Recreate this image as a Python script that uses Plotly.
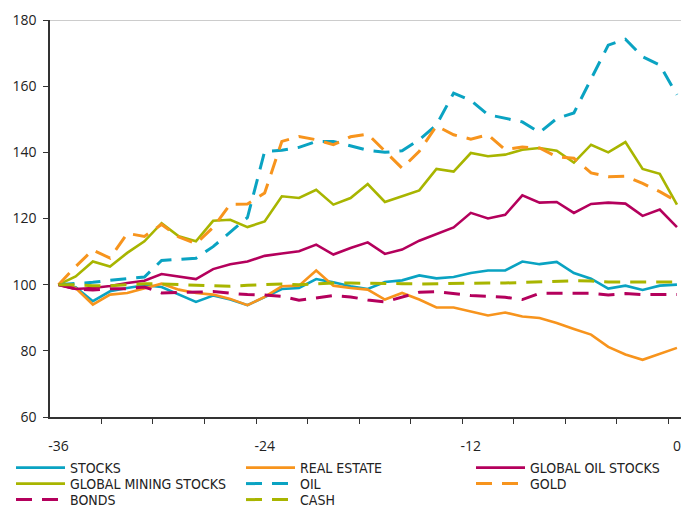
import plotly.graph_objects as go

# months before today
months = list(range(-36, 1))

stocks = [100, 99.2, 95.0, 98.0, 99.0, 99.8, 99.3, 97.0, 94.8, 96.7, 95.5, 93.8, 96.3,
          98.7, 99.0, 101.7, 100.7, 99.5, 98.7, 100.8, 101.3, 102.8, 101.9, 102.3, 103.5,
          104.3, 104.3, 107.0, 106.2, 106.9, 103.5, 101.8, 98.8, 99.7, 98.4, 99.7, 100.0]
real_estate = [100, 99.0, 94.0, 97.0, 97.5, 98.8, 100.3, 98.5, 97.5, 97.0, 95.7, 93.8, 96.3,
               99.5, 99.7, 104.3, 99.7, 99.0, 98.5, 95.5, 97.5, 95.5, 93.1, 93.1, 91.9,
               90.7, 91.6, 90.4, 89.9, 88.4, 86.6, 84.9, 81.2, 78.9, 77.3, 79.1, 80.9]
global_oil_stocks = [100, 98.7, 99.0, 99.6, 100.5, 101.2, 103.2, 102.5, 101.7, 104.7, 106.2, 107.0, 108.7,
                     109.4, 110.1, 112.1, 109.1, 111.1, 112.8, 109.3, 110.6, 113.3, 115.3, 117.3, 121.7,
                     120.0, 121.1, 127.0, 124.8, 125.0, 121.7, 124.4, 124.8, 124.5, 120.8, 122.7, 117.4]
global_mining_stocks = [100, 102.5, 107.0, 105.5, 109.6, 113.1, 118.6, 114.6, 113.1, 119.3, 119.6, 117.4, 119.1,
                        126.7, 126.2, 128.7, 124.2, 126.2, 130.4, 125.0, 126.7, 128.5, 135.0, 134.2, 139.8,
                        138.8, 139.3, 140.8, 141.3, 140.5, 136.9, 142.3, 140.0, 143.1, 135.0, 133.5, 124.2]
oil = [100, 100.3, 100.7, 101.3, 101.8, 102.3, 107.3, 107.6, 108.0, 111.5, 116.0, 120.3, 140.3,
       140.6, 141.5, 143.3, 143.3, 142.0, 140.6, 140.0, 140.5, 143.8, 148.3, 157.9, 155.7,
       151.4, 150.2, 149.2, 146.0, 150.2, 151.9, 162.4, 172.4, 174.2, 168.9, 166.4, 157.4]
gold = [100, 105.5, 110.5, 108.0, 115.5, 114.6, 118.2, 114.4, 112.4, 117.3, 124.3, 124.4, 127.7,
        143.3, 144.8, 143.8, 142.3, 144.7, 145.5, 140.5, 135.2, 140.3, 148.0, 145.3, 144.0,
        145.3, 140.8, 141.6, 141.3, 138.7, 138.2, 133.8, 132.6, 132.8, 130.6, 128.1, 125.2]
bonds = [100, 98.7, 98.4, 98.8, 98.8, 99.3, 97.5, 97.7, 97.9, 97.9, 97.4, 97.0, 96.9,
         96.5, 95.3, 96.0, 96.7, 96.3, 95.4, 94.8, 96.3, 97.7, 97.9, 97.3, 96.7,
         96.5, 96.2, 95.5, 97.4, 97.4, 97.4, 97.4, 96.9, 97.3, 97.0, 97.0, 97.0]
cash = [100, 100.0, 99.7, 99.7, 100.0, 100.3, 100.2, 100.0, 100.0, 99.7, 99.5, 99.8, 100.0,
        100.2, 100.0, 100.3, 100.5, 100.5, 100.5, 100.5, 100.3, 100.2, 100.3, 100.5, 100.5,
        100.5, 100.5, 100.7, 100.8, 101.0, 101.2, 101.1, 100.8, 100.8, 100.8, 100.8, 100.8]

x_labels = [-36, -24, -12, 0]
y_ticks = [60, 80, 100, 120, 140, 160, 180]

TEAL = "#0aa3c2"
ORANGE = "#f7941d"
MAGENTA = "#b4005c"
OLIVE = "#a8b500"
DASH = "16px,10px"

# name, values, colour, dash, legend row, entry width
series = [
    ("STOCKS", stocks, TEAL, "solid", "legend", 166),
    ("REAL ESTATE", real_estate, ORANGE, "solid", "legend", 166),
    ("GLOBAL OIL STOCKS", global_oil_stocks, MAGENTA, "solid", "legend", 130),
    ("GLOBAL MINING STOCKS", global_mining_stocks, OLIVE, "solid", "legend2", 166),
    ("OIL", oil, TEAL, DASH, "legend2", 166),
    ("GOLD", gold, ORANGE, DASH, "legend2", 130),
    ("BONDS", bonds, MAGENTA, DASH, "legend3", 166),
    ("CASH", cash, OLIVE, DASH, "legend3", 166),
]

fig = go.Figure()
for name, vals, color, dash, leg, ew in series:
    fig.add_trace(go.Scatter(
        x=months, y=vals, name=name, mode="lines",
        line=dict(color=color, width=2.6 if dash == "solid" else 3, dash=dash),
        legend=leg, legendwidth=ew,
    ))

W, H = 681, 508
M_L, M_T, M_B = 50, 20, 91
PLOT_W, PLOT_H = W - M_L, H - M_T - M_B
TICK_FONT = dict(family="Open Sans, Noto Sans, sans-serif", size=14, color="#222222")
LEG_FONT = dict(family="Liberation Sans Narrow, DejaVu Sans Condensed, sans-serif", size=14, color="#222222")

def legend_row(center_px):
    # one horizontal legend per row, placed below and left of the plot area
    return dict(
        x=(11 - M_L) / PLOT_W, y=(H - M_B - center_px) / PLOT_H,
        xanchor="left", yanchor="middle", orientation="h",
        font=LEG_FONT, bgcolor="rgba(0,0,0,0)", itemwidth=49,
    )

fig.update_layout(
    width=W, height=H,
    margin=dict(l=M_L, r=0, t=M_T, b=M_B, autoexpand=False),
    plot_bgcolor="white", paper_bgcolor="white",
    showlegend=True,
    legend=legend_row(468),
    legend2=legend_row(484),
    legend3=legend_row(500),
    xaxis=dict(
        range=[-36.495, 0.235], showgrid=False, zeroline=False,
        tickvals=x_labels, ticktext=[str(v) for v in x_labels],
        ticks="", tickfont=TICK_FONT, ticklabelstandoff=15,
        showline=True, linecolor="#333333", linewidth=1.5,
        minor=dict(tickvals=[-36.5 + 3 * k for k in range(13)], ticks="outside",
                   ticklen=5, tickwidth=1.2, tickcolor="#333333", showgrid=False),
    ),
    yaxis=dict(
        range=[60, 180], tickvals=y_ticks, showgrid=False, zeroline=False,
        ticks="outside", ticklen=5, tickwidth=1.2, tickcolor="#333333",
        tickfont=TICK_FONT, ticklabelstandoff=4,
        showline=True, linecolor="#333333", linewidth=1.5,
    ),
    shapes=[dict(type="line", xref="paper", yref="y", x0=0, x1=1, y0=180, y1=180,
                 line=dict(color="#9a9a9a", width=1.2), layer="below")],
)

fig.write_html("out.html")
